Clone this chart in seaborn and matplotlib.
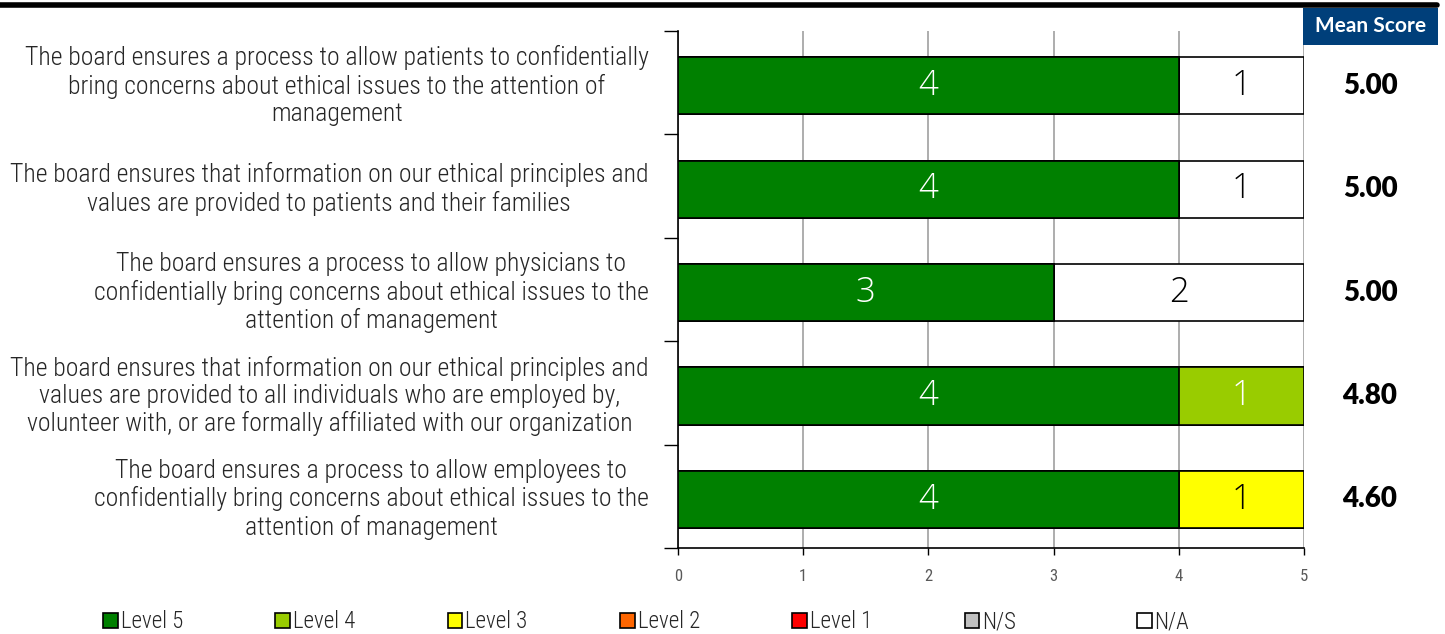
import matplotlib
matplotlib.use("Agg")
import matplotlib.pyplot as plt
import matplotlib.font_manager as fm
from matplotlib.patches import Patch, Rectangle
from matplotlib.lines import Line2D
import seaborn as sns
import pandas as pd
import numpy as np

# ---- data ----
statements = [
    "The board ensures a process to allow patients to confidentially\nbring concerns about ethical issues to the attention of\nmanagement",
    "The board ensures that information on our ethical principles and\nvalues are provided to patients and their families",
    "The board ensures a process to allow physicians to\nconfidentially bring concerns about ethical issues to the\nattention of management",
    "The board ensures that information on our ethical principles and\nvalues are provided to all individuals who are employed by,\nvolunteer with, or are formally affiliated with our organization",
    "The board ensures a process to allow employees to\nconfidentially bring concerns about ethical issues to the\nattention of management",
]
levels = ["Level 5", "Level 4", "Level 3", "Level 2", "Level 1", "N/S", "N/A"]
level5 = [4, 4, 3, 4, 4]
level4 = [0, 0, 0, 1, 0]
level3 = [0, 0, 0, 0, 1]
level2 = [0, 0, 0, 0, 0]
level1 = [0, 0, 0, 0, 0]
ns = [0, 0, 0, 0, 0]
na = [1, 1, 2, 0, 0]
mean_scores = [5.00, 5.00, 5.00, 4.80, 4.60]

colors = ["#008000", "#99CC00", "#FFFF00", "#FF6600", "#FF0000", "#C0C0C0", "#FFFFFF"]
text_colors = ["white", "white", "black", "white", "white", "black", "black"]

counts = pd.DataFrame(
    dict(zip(levels, [level5, level4, level3, level2, level1, ns, na])),
    index=statements,
)
cum = counts.cumsum(axis=1)

sns.set_theme(style="white")

def pick(names):
    avail = {f.name for f in fm.fontManager.ttflist}
    for n in names:
        if n in avail:
            return n
    return "DejaVu Sans"

narrow = pick(["Liberation Sans Narrow", "Roboto Condensed", "Liberation Sans"])
light = pick(["Open Sans", "Lato", "DejaVu Sans"])
boldf = pick(["Lato", "Open Sans", "DejaVu Sans"])
plt.rcParams["font.family"] = [narrow, "DejaVu Sans"]

W, H = 1445, 634
fig = plt.figure(figsize=(W / 100, H / 100), dpi=100)
x0, x1, ytop, ybot = 678, 1304, 31, 548
ax = fig.add_axes([x0 / W, 1 - ybot / H, (x1 - x0) / W, (ybot - ytop) / H])

# stacked bars: draw cumulative totals from the right-most segment inward
for lvl, col in reversed(list(zip(levels, colors))):
    d = pd.DataFrame({"statement": statements, "value": cum[lvl].values})
    sns.barplot(data=d, y="statement", x="value", order=statements, color=col,
                saturation=1, width=0.555, edgecolor="black", linewidth=1.2,
                ax=ax, zorder=3)

# segment values
for i, s in enumerate(statements):
    left = 0
    for lvl, tc in zip(levels, text_colors):
        v = counts.loc[s, lvl]
        if v > 0:
            ax.text(left + v / 2, i, f"{v}", ha="center", va="center",
                    color=tc, fontsize=25, family=light, fontweight="light",
                    zorder=5)
        left += v

off = 0.03  # category bands sit a touch above the bar centres
ax.set_xlim(0, 5)
ax.set_ylim(4.5 - off, -0.5 - off)
ax.set_xticks(range(6))
ax.set_xticklabels([str(t) for t in range(6)], fontsize=12, color="#595959")
ax.set_ylabel("")
ax.set_xlabel("")
ax.set_yticks(np.arange(-0.5, 5.0, 1.0) - off)
ax.set_yticklabels([])
ax.tick_params(axis="y", direction="out", length=10, width=1, color="black", left=True)
ax.tick_params(axis="x", direction="out", length=5, width=1, color="black", bottom=True, pad=10)
ax.grid(axis="x", color="#A0A0A0", linewidth=1.2, zorder=0)
ax.grid(axis="y", visible=False)
for side in ["top", "right"]:
    ax.spines[side].set_visible(False)
for side in ["left", "bottom"]:
    ax.spines[side].set_color("black")
    ax.spines[side].set_linewidth(1.2)

# statement labels
for i, s in enumerate(statements):
    ax.text(-0.235, i, s, ha="right", va="center", multialignment="center",
            fontsize=18.5, fontweight="light", color="#262626", linespacing=1.17,
            transform=ax.transData, clip_on=False)

# mean score column
for i, m in enumerate(mean_scores):
    ax.text(5.527, i, f"{m:.2f}", ha="center", va="center", fontsize=20,
            fontweight="heavy", family=boldf, color="black", clip_on=False)

fig.patches.append(Rectangle((1303 / W, 1 - 45 / H), 135 / W, 37 / H,
                             transform=fig.transFigure, facecolor="#003F7A",
                             edgecolor="none"))
fig.text(1370.5 / W, 1 - 26.5 / H, "Mean Score", ha="center", va="center",
         color="white", fontsize=15, fontweight="bold", family=boldf)

# top rule
fig.add_artist(Line2D([0, 1437 / W], [1 - 4.5 / H, 1 - 4.5 / H],
                      transform=fig.transFigure, color="black", linewidth=4))

# legend entries at even spacing
for i, (lvl, col) in enumerate(zip(levels, colors)):
    leg = fig.legend(handles=[Patch(facecolor=col, edgecolor="black", linewidth=1.2)],
                     labels=[lvl], loc="center left",
                     bbox_to_anchor=((103 + 172.3 * i) / W, 1 - 622 / H),
                     frameon=False, fontsize=16.5, handlelength=0.65, handleheight=0.65,
                     handletextpad=0.12, borderpad=0, borderaxespad=0,
                     labelcolor="#262626")
    for t in leg.get_texts():
        t.set_fontweight("light")

fig.savefig("out.png", dpi=100)
